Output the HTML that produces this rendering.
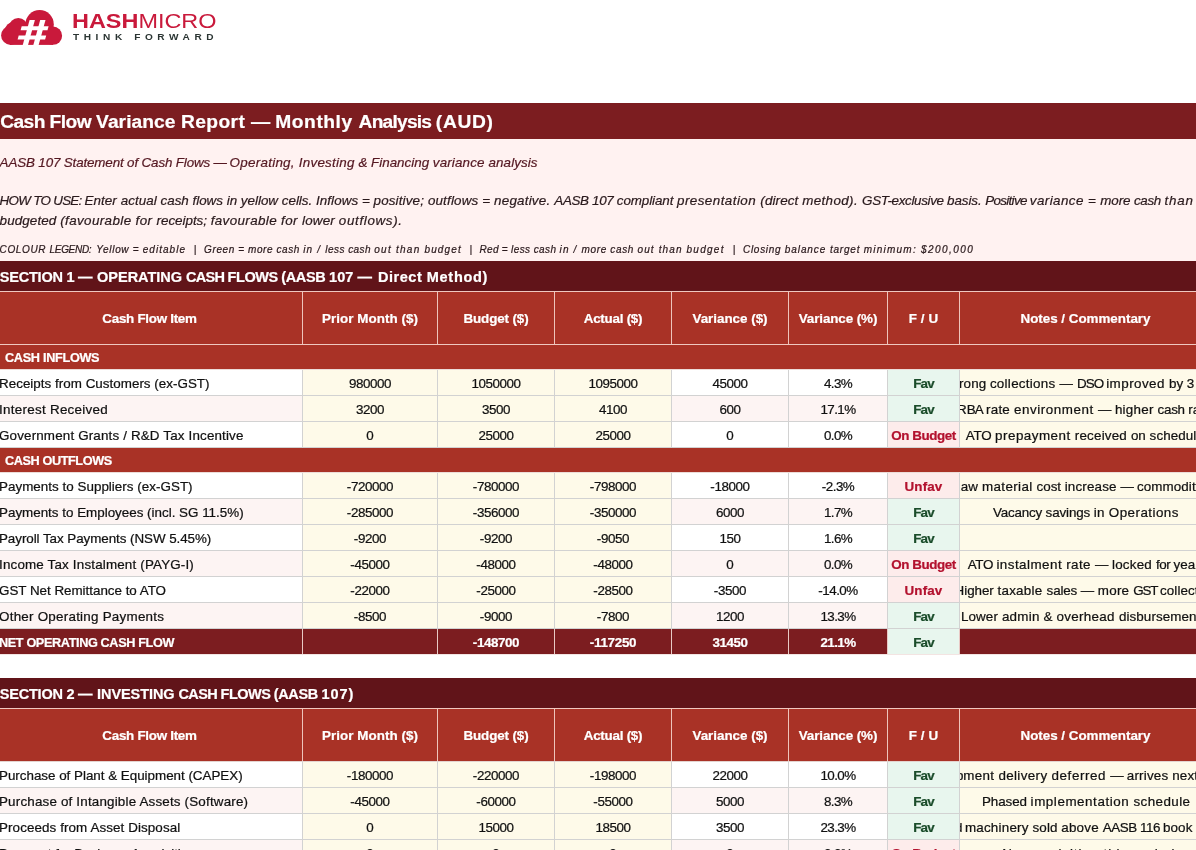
<!DOCTYPE html>
<html lang="en"><head><meta charset="utf-8"><title>Cash Flow Variance Report</title>
<style>
*{box-sizing:border-box;margin:0;padding:0}
html,body{width:1196px;height:850px;overflow:hidden;background:#fff}
body{position:relative;font-family:"Liberation Sans", sans-serif;font-size:13.4px;color:#111;-webkit-text-stroke:0.22px}
.a{position:absolute;white-space:nowrap;overflow:hidden}
.bar{position:absolute;left:0;width:1196px;color:#fff;font-weight:bold;white-space:nowrap;overflow:hidden;display:flex;align-items:center}
.row{position:absolute;left:0;width:1212px}
.c{position:absolute;top:0;height:100%;white-space:nowrap;overflow:hidden;border-right:1px solid #d2d2d2;border-bottom:1px solid #d2d2d2;display:flex;align-items:center;justify-content:center;padding-top:1px}
.c.l{justify-content:flex-start}
.c.l span{margin-left:-1px}
.h .c{border:0;border-right:1px solid #efc4bb;color:#fff;font-weight:bold;padding-top:1px}
.h{background:#a93226;border-top:1px solid #f0c8c0;border-bottom:1px solid #f0c8c0}
.h.h2{border-bottom-color:#e4d4d0}
.y{background:#fefae9}
.w{background:#fff}
.p{background:#fdf4f3}
.g{background:#e8f6ee;color:#1b4d2b;font-weight:bold}
.u{background:#fdeceb;color:#b3122f;font-weight:bold}
.n{border-bottom:1px solid #f3e4e2}
.n .c{background:#7c1d20;color:#fff;font-weight:bold;border-color:#e9c9c5;border-bottom:0;padding-top:2px}
.n .c.g{background:#e8f6ee;color:#1b4d2b}
.nt{position:absolute;left:0;top:1px;width:100%;height:25px;line-height:26px}
.c0{left:0px;width:303px}
.c1{left:303px;width:135px}
.c2{left:438px;width:117px}
.c3{left:555px;width:117px}
.c4{left:672px;width:117px}
.c5{left:789px;width:99px}
.c6{left:888px;width:72px}
.c7{left:960px;width:252px}
</style></head>
<body>
<svg class="a" style="left:0;top:0" width="70" height="50" viewBox="0 0 70 50">
<g fill="#c9193b"><circle cx="10.6" cy="35.400" r="9.500"/><circle cx="14" cy="31" r="9.300"/><circle cx="18.300" cy="27.300" r="9.400"/><circle cx="39.600" cy="24.200" r="14.200"/><circle cx="53" cy="35.700" r="9.100"/><rect x="10" y="28" width="43" height="16.900"/></g>
<g fill="#fff">
<path d="M29.600 20 L34.900 20 L27.900 45.500 L22.600 45.500 Z"/>
<path d="M40.200 20 L45.500 20 L38.500 45.500 L33.200 45.500 Z"/>
<path d="M21.700 26.300 L48.600 26.300 L47.500 30.200 L20.600 30.200 Z"/>
<path d="M18.700 35.500 L46.200 35.500 L45.100 39.500 L17.600 39.500 Z"/>
</g></svg>
<div class="a" style="left:72px;top:9px;height:24px;line-height:24px;color:#c9193b;-webkit-text-stroke:0;overflow:visible;transform-origin:0 0;transform:scaleX(1.19);font-size:19.7px"><b>HASH</b>MICRO</div>
<div class="a" style="left:72.5px;top:32px;height:11px;line-height:11px;color:#2b3533;-webkit-text-stroke:0;font-weight:bold;overflow:visible;font-size:9px;letter-spacing:4.1px;transform-origin:0 0;transform:scaleX(1.12)">THINK FORWARD</div>
<div class="bar" style="top:103px;height:36px;background:#7c1d20"><div style="position:absolute;left:0;top:1px;height:36px;line-height:36px;font-size:19.2px"><span style="position:absolute;left:0.3px;top:0;letter-spacing:-0.610px;white-space:pre">Cash </span><span style="position:absolute;left:49.5px;top:0;letter-spacing:-0.485px;white-space:pre">Flow </span><span style="position:absolute;left:96.1px;top:0;letter-spacing:0.059px;white-space:pre">Variance </span><span style="position:absolute;left:180.9px;top:0;letter-spacing:0.435px;white-space:pre">Report </span><span style="position:absolute;left:251.1px;top:0;letter-spacing:-0.159px;white-space:pre">— </span><span style="position:absolute;left:275.3px;top:0;letter-spacing:0.554px;white-space:pre">Monthly </span><span style="position:absolute;left:358.6px;top:0;letter-spacing:-0.784px;white-space:pre">Analysis </span><span style="position:absolute;left:435.8px;top:0;letter-spacing:0.693px;white-space:pre">(AUD)</span></div></div>
<div class="a" style="left:0;top:139px;width:1196px;height:122px;background:#fff2f1"></div>
<div class="a" style="left:0;top:153.0px;height:20px;line-height:20px;width:1196px;font-style:italic;font-size:13.4px;color:#551822"><span style="position:absolute;left:-0.4px;top:0;letter-spacing:-0.146px;white-space:pre">AASB 107 Statement of Cash Flows </span><span style="position:absolute;left:213.6px;top:0;letter-spacing:-0.555px;white-space:pre">— </span><span style="position:absolute;left:229.6px;top:0;letter-spacing:0.268px;white-space:pre">Operating, </span><span style="position:absolute;left:298.8px;top:0;letter-spacing:0.248px;white-space:pre">Investing </span><span style="position:absolute;left:358.6px;top:0;letter-spacing:-0.076px;white-space:pre">&amp; </span><span style="position:absolute;left:371.1px;top:0;letter-spacing:-0.008px;white-space:pre">Financing </span><span style="position:absolute;left:432.8px;top:0;letter-spacing:0.152px;white-space:pre">variance </span><span style="position:absolute;left:488.5px;top:0;letter-spacing:0.095px;white-space:pre">analysis</span></div>
<div class="a" style="left:0;top:190.8px;height:20px;line-height:20px;width:1196px;font-style:italic;font-size:13.4px;color:#2a1a1d"><span style="position:absolute;left:-0.4px;top:0;letter-spacing:-0.708px;white-space:pre">HOW TO USE: </span><span style="position:absolute;left:84.6px;top:0;letter-spacing:0.056px;white-space:pre">Enter actual </span><span style="position:absolute;left:160.5px;top:0;letter-spacing:-0.005px;white-space:pre">cash flows in </span><span style="position:absolute;left:240.8px;top:0;letter-spacing:0.003px;white-space:pre">yellow cells. </span><span style="position:absolute;left:316.0px;top:0;letter-spacing:0.066px;white-space:pre">Inflows = </span><span style="position:absolute;left:373.6px;top:0;letter-spacing:0.146px;white-space:pre">positive; </span><span style="position:absolute;left:427.9px;top:0;letter-spacing:0.165px;white-space:pre">outflows = </span><span style="position:absolute;left:494.1px;top:0;letter-spacing:0.213px;white-space:pre">negative. </span><span style="position:absolute;left:554.3px;top:0;letter-spacing:-0.334px;white-space:pre">AASB 107 </span><span style="position:absolute;left:616.8px;top:0;letter-spacing:-0.083px;white-space:pre">compliant </span><span style="position:absolute;left:677.0px;top:0;letter-spacing:0.452px;white-space:pre">presentation </span><span style="position:absolute;left:760.3px;top:0;letter-spacing:0.122px;white-space:pre">(direct </span><span style="position:absolute;left:802.2px;top:0;letter-spacing:0.371px;white-space:pre">method). </span><span style="position:absolute;left:862.1px;top:0;letter-spacing:-0.325px;white-space:pre">GST-exclusive </span><span style="position:absolute;left:947.1px;top:0;letter-spacing:-0.086px;white-space:pre">basis. </span><span style="position:absolute;left:985.2px;top:0;letter-spacing:-0.667px;white-space:pre">Positive </span><span style="position:absolute;left:1029.8px;top:0;letter-spacing:0.421px;white-space:pre">variance = </span><span style="position:absolute;left:1100.3px;top:0;letter-spacing:-0.126px;white-space:pre">more </span><span style="position:absolute;left:1133.9px;top:0;letter-spacing:-0.301px;white-space:pre">cash </span><span style="position:absolute;left:1164.4px;top:0;letter-spacing:0.826px;white-space:pre">than</span></div>
<div class="a" style="left:0;top:210.8px;height:20px;line-height:20px;width:1196px;font-style:italic;font-size:13.4px;color:#2a1a1d"><span style="position:absolute;left:-0.4px;top:0;letter-spacing:0.114px;white-space:pre">budgeted </span><span style="position:absolute;left:60.2px;top:0;letter-spacing:0.390px;white-space:pre">(favourable for </span><span style="position:absolute;left:156.5px;top:0;letter-spacing:-0.013px;white-space:pre">receipts; </span><span style="position:absolute;left:210.7px;top:0;letter-spacing:0.380px;white-space:pre">favourable for </span><span style="position:absolute;left:302.0px;top:0;letter-spacing:0.180px;white-space:pre">lower </span><span style="position:absolute;left:338.8px;top:0;letter-spacing:0.660px;white-space:pre">outflows).</span></div>
<div class="a" style="left:0;top:243.0px;height:14px;line-height:14px;width:1196px;font-style:italic;font-size:10.0px;color:#2a1a1d"><span style="position:absolute;left:-0.4px;top:0;letter-spacing:0.620px;white-space:pre">COLOUR </span><span style="position:absolute;left:49.5px;top:0;letter-spacing:-0.295px;white-space:pre">LEGEND:  </span><span style="position:absolute;left:96.3px;top:0;letter-spacing:0.677px;white-space:pre">Yellow = </span><span style="position:absolute;left:142.7px;top:0;letter-spacing:1.041px;white-space:pre">editable  </span><span style="position:absolute;left:193.7px;top:0;letter-spacing:0.749px;white-space:pre">|  </span><span style="position:absolute;left:204.1px;top:0;letter-spacing:0.589px;white-space:pre">Green = </span><span style="position:absolute;left:248.0px;top:0;letter-spacing:0.574px;white-space:pre">more cash </span><span style="position:absolute;left:303.2px;top:0;letter-spacing:1.196px;white-space:pre">in / </span><span style="position:absolute;left:325.3px;top:0;letter-spacing:0.454px;white-space:pre">less cash </span><span style="position:absolute;left:374.3px;top:0;letter-spacing:1.253px;white-space:pre">out than </span><span style="position:absolute;left:424.5px;top:0;letter-spacing:1.120px;white-space:pre">budget  </span><span style="position:absolute;left:469.6px;top:0;letter-spacing:0.582px;white-space:pre">|  </span><span style="position:absolute;left:479.5px;top:0;letter-spacing:0.310px;white-space:pre">Red = </span><span style="position:absolute;left:511.1px;top:0;letter-spacing:0.404px;white-space:pre">less cash </span><span style="position:absolute;left:559.6px;top:0;letter-spacing:1.156px;white-space:pre">in / </span><span style="position:absolute;left:581.5px;top:0;letter-spacing:0.654px;white-space:pre">more cash </span><span style="position:absolute;left:637.5px;top:0;letter-spacing:1.120px;white-space:pre">out than </span><span style="position:absolute;left:686.5px;top:0;letter-spacing:1.270px;white-space:pre">budget  </span><span style="position:absolute;left:732.8px;top:0;letter-spacing:0.682px;white-space:pre">|  </span><span style="position:absolute;left:743.0px;top:0;letter-spacing:0.709px;white-space:pre">Closing </span><span style="position:absolute;left:784.8px;top:0;letter-spacing:0.912px;white-space:pre">balance </span><span style="position:absolute;left:829.9px;top:0;letter-spacing:0.793px;white-space:pre">target </span><span style="position:absolute;left:863.8px;top:0;letter-spacing:1.221px;white-space:pre">minimum: </span><span style="position:absolute;left:920.9px;top:0;letter-spacing:1.470px;white-space:pre">$200,000</span></div>
<div class="bar" style="top:261px;height:30px;background:#611419"><div style="position:absolute;left:0;top:1px;height:30px;line-height:30px;font-size:14.5px"><span style="position:absolute;left:-0.2px;top:0;letter-spacing:-0.227px;white-space:pre">SECTION 1 </span><span style="position:absolute;left:78.1px;top:0;letter-spacing:0.236px;white-space:pre">— </span><span style="position:absolute;left:97.1px;top:0;letter-spacing:-0.025px;white-space:pre">OPERATING </span><span style="position:absolute;left:186.0px;top:0;letter-spacing:-0.703px;white-space:pre">CASH </span><span style="position:absolute;left:227.6px;top:0;letter-spacing:-0.446px;white-space:pre">FLOWS </span><span style="position:absolute;left:281.3px;top:0;letter-spacing:-0.374px;white-space:pre">(AASB </span><span style="position:absolute;left:329.0px;top:0;letter-spacing:0.095px;white-space:pre">107 </span><span style="position:absolute;left:357.6px;top:0;letter-spacing:0.986px;white-space:pre">— </span><span style="position:absolute;left:378.1px;top:0;letter-spacing:0.510px;white-space:pre">Direct </span><span style="position:absolute;left:426.8px;top:0;letter-spacing:0.713px;white-space:pre">Method)</span></div></div>
<div class="row h " style="top:291px;height:54px">
<div class="c c0" style="padding-right:3px"><span style="font-size:13.4px;letter-spacing:-0.275px;">Cash Flow Item</span></div>
<div class="c c1"><span style="font-size:13.4px;letter-spacing:0.038px;">Prior Month ($)</span></div>
<div class="c c2"><span style="font-size:13.4px;letter-spacing:-0.118px;">Budget ($)</span></div>
<div class="c c3"><span style="font-size:13.4px;letter-spacing:-0.252px;">Actual ($)</span></div>
<div class="c c4"><span style="font-size:13.4px;letter-spacing:-0.013px;">Variance ($)</span></div>
<div class="c c5"><span style="font-size:13.4px;letter-spacing:-0.091px;">Variance (%)</span></div>
<div class="c c6"><span style="font-size:13.4px;letter-spacing:0.057px;">F / U</span></div>
<div class="c c7"><span style="font-size:13.4px;letter-spacing:-0.016px;">Notes / Commentary</span></div>
</div>
<div class="bar" style="top:345px;height:25px;background:#a93226;padding-left:5px;padding-top:1px;border-bottom:1px solid #ecdcd8"><span style="font-size:12.7px;letter-spacing:-0.309px;">CASH INFLOWS</span></div>
<div class="row" style="top:370px;height:26px">
<div class="c c0 l w"><span style="font-size:13.4px;letter-spacing:0.023px;">Receipts from Customers (ex-GST)</span></div>
<div class="c c1 y"><span style="font-size:13.4px;letter-spacing:-0.469px;">980000</span></div>
<div class="c c2 y"><span style="font-size:13.4px;letter-spacing:-0.465px;">1050000</span></div>
<div class="c c3 y"><span style="font-size:13.4px;letter-spacing:-0.465px;">1095000</span></div>
<div class="c c4 w"><span style="font-size:13.4px;letter-spacing:-0.474px;">45000</span></div>
<div class="c c5 w"><span style="font-size:13.4px;letter-spacing:-0.660px;">4.3%</span></div>
<div class="c c6 g"><span style="font-size:13.4px;letter-spacing:-0.867px;">Fav</span></div>
<div class="c c7 y"><div class="nt" style="left:0"><span style="position:absolute;left:-13.6px;top:0;letter-spacing:0.000px;white-space:pre">St</span><span style="position:absolute;left:-0.9px;top:0;letter-spacing:0.056px;white-space:pre">rong </span><span style="position:absolute;left:29.9px;top:0;letter-spacing:0.288px;white-space:pre">collections </span><span style="position:absolute;left:99.6px;top:0;letter-spacing:0.145px;white-space:pre">— </span><span style="position:absolute;left:117.0px;top:0;letter-spacing:-0.884px;white-space:pre">DSO </span><span style="position:absolute;left:146.2px;top:0;letter-spacing:0.456px;white-space:pre">improved </span><span style="position:absolute;left:209.1px;top:0;letter-spacing:-0.088px;white-space:pre">by </span><span style="position:absolute;left:226.7px;top:0;letter-spacing:0.100px;white-space:pre">3 days</span></div></div>
</div>
<div class="row" style="top:396px;height:26px">
<div class="c c0 l p"><span style="font-size:13.4px;letter-spacing:0.284px;">Interest Received</span></div>
<div class="c c1 y"><span style="font-size:13.4px;letter-spacing:-0.483px;">3200</span></div>
<div class="c c2 y"><span style="font-size:13.4px;letter-spacing:-0.483px;">3500</span></div>
<div class="c c3 y"><span style="font-size:13.4px;letter-spacing:-0.483px;">4100</span></div>
<div class="c c4 p"><span style="font-size:13.4px;letter-spacing:-0.501px;">600</span></div>
<div class="c c5 p"><span style="font-size:13.4px;letter-spacing:-0.607px;">17.1%</span></div>
<div class="c c6 g"><span style="font-size:13.4px;letter-spacing:-0.867px;">Fav</span></div>
<div class="c c7 y"><div class="nt" style="left:0"><span style="position:absolute;left:-3.0px;top:0;letter-spacing:0.000px;white-space:pre">R</span><span style="position:absolute;left:6.7px;top:0;letter-spacing:-0.761px;white-space:pre">BA </span><span style="position:absolute;left:26.0px;top:0;letter-spacing:0.241px;white-space:pre">rate </span><span style="position:absolute;left:54.0px;top:0;letter-spacing:0.549px;white-space:pre">environment </span><span style="position:absolute;left:138.0px;top:0;letter-spacing:-0.105px;white-space:pre">— </span><span style="position:absolute;left:154.9px;top:0;letter-spacing:0.251px;white-space:pre">higher </span><span style="position:absolute;left:197.6px;top:0;letter-spacing:-0.281px;white-space:pre">cash </span><span style="position:absolute;left:228.2px;top:0;letter-spacing:0.100px;white-space:pre">rate</span></div></div>
</div>
<div class="row" style="top:422px;height:26px">
<div class="c c0 l w"><span style="font-size:13.4px;letter-spacing:0.160px;">Government Grants / R&amp;D Tax Incentive</span></div>
<div class="c c1 y"><span style="font-size:13.4px;">0</span></div>
<div class="c c2 y"><span style="font-size:13.4px;letter-spacing:-0.474px;">25000</span></div>
<div class="c c3 y"><span style="font-size:13.4px;letter-spacing:-0.474px;">25000</span></div>
<div class="c c4 w"><span style="font-size:13.4px;">0</span></div>
<div class="c c5 w"><span style="font-size:13.4px;letter-spacing:-0.660px;">0.0%</span></div>
<div class="c c6 u"><span style="font-size:13.4px;letter-spacing:-0.411px;">On Budget</span></div>
<div class="c c7 y"><div class="nt" style="left:0"><span style="position:absolute;left:5.7px;top:0;letter-spacing:-0.153px;white-space:pre">ATO </span><span style="position:absolute;left:35.1px;top:0;letter-spacing:0.479px;white-space:pre">prepayment </span><span style="position:absolute;left:114.8px;top:0;letter-spacing:0.196px;white-space:pre">received </span><span style="position:absolute;left:170.9px;top:0;letter-spacing:0.028px;white-space:pre">on </span><span style="position:absolute;left:189.6px;top:0;letter-spacing:0.100px;white-space:pre">schedule</span></div></div>
</div>
<div class="bar" style="top:448px;height:25px;background:#a93226;padding-left:5px;padding-top:1px;border-bottom:1px solid #ecdcd8"><span style="font-size:12.7px;letter-spacing:-0.408px;">CASH OUTFLOWS</span></div>
<div class="row" style="top:473px;height:26px">
<div class="c c0 l w"><span style="font-size:13.4px;letter-spacing:0.028px;">Payments to Suppliers (ex-GST)</span></div>
<div class="c c1 y"><span style="font-size:13.4px;letter-spacing:-0.400px;">-720000</span></div>
<div class="c c2 y"><span style="font-size:13.4px;letter-spacing:-0.400px;">-780000</span></div>
<div class="c c3 y"><span style="font-size:13.4px;letter-spacing:-0.400px;">-798000</span></div>
<div class="c c4 w"><span style="font-size:13.4px;letter-spacing:-0.391px;">-18000</span></div>
<div class="c c5 w"><span style="font-size:13.4px;letter-spacing:-0.510px;">-2.3%</span></div>
<div class="c c6 u"><span style="font-size:13.4px;letter-spacing:0.134px;">Unfav</span></div>
<div class="c c7 y"><div class="nt" style="left:0"><span style="position:absolute;left:-9.0px;top:0;letter-spacing:0.000px;white-space:pre">R</span><span style="position:absolute;left:0.7px;top:0;letter-spacing:0.154px;white-space:pre">aw </span><span style="position:absolute;left:22.0px;top:0;letter-spacing:0.362px;white-space:pre">material </span><span style="position:absolute;left:76.6px;top:0;letter-spacing:-0.036px;white-space:pre">cost </span><span style="position:absolute;left:104.7px;top:0;letter-spacing:0.174px;white-space:pre">increase </span><span style="position:absolute;left:160.6px;top:0;letter-spacing:-0.405px;white-space:pre">— </span><span style="position:absolute;left:176.9px;top:0;letter-spacing:0.100px;white-space:pre">commodity</span></div></div>
</div>
<div class="row" style="top:499px;height:26px">
<div class="c c0 l p"><span style="font-size:13.4px;">Payments to Employees (incl. SG 11.5%)</span></div>
<div class="c c1 y"><span style="font-size:13.4px;letter-spacing:-0.400px;">-285000</span></div>
<div class="c c2 y"><span style="font-size:13.4px;letter-spacing:-0.400px;">-356000</span></div>
<div class="c c3 y"><span style="font-size:13.4px;letter-spacing:-0.400px;">-350000</span></div>
<div class="c c4 p"><span style="font-size:13.4px;letter-spacing:-0.483px;">6000</span></div>
<div class="c c5 p"><span style="font-size:13.4px;letter-spacing:-0.660px;">1.7%</span></div>
<div class="c c6 g"><span style="font-size:13.4px;letter-spacing:-0.867px;">Fav</span></div>
<div class="c c7 y"><div class="nt" style="left:0"><span style="position:absolute;left:33.0px;top:0;letter-spacing:-0.186px;white-space:pre">Vacancy </span><span style="position:absolute;left:85.6px;top:0;letter-spacing:-0.115px;white-space:pre">savings </span><span style="position:absolute;left:133.8px;top:0;letter-spacing:0.286px;white-space:pre">in </span><span style="position:absolute;left:148.8px;top:0;letter-spacing:0.460px;white-space:pre">Operations</span></div></div>
</div>
<div class="row" style="top:525px;height:26px">
<div class="c c0 l w"><span style="font-size:13.4px;letter-spacing:-0.057px;">Payroll Tax Payments (NSW 5.45%)</span></div>
<div class="c c1 y"><span style="font-size:13.4px;letter-spacing:-0.377px;">-9200</span></div>
<div class="c c2 y"><span style="font-size:13.4px;letter-spacing:-0.377px;">-9200</span></div>
<div class="c c3 y"><span style="font-size:13.4px;letter-spacing:-0.377px;">-9050</span></div>
<div class="c c4 w"><span style="font-size:13.4px;letter-spacing:-0.501px;">150</span></div>
<div class="c c5 w"><span style="font-size:13.4px;letter-spacing:-0.660px;">1.6%</span></div>
<div class="c c6 g"><span style="font-size:13.4px;letter-spacing:-0.867px;">Fav</span></div>
<div class="c c7 y"></div>
</div>
<div class="row" style="top:551px;height:26px">
<div class="c c0 l p"><span style="font-size:13.4px;letter-spacing:0.174px;">Income Tax Instalment (PAYG-I)</span></div>
<div class="c c1 y"><span style="font-size:13.4px;letter-spacing:-0.391px;">-45000</span></div>
<div class="c c2 y"><span style="font-size:13.4px;letter-spacing:-0.391px;">-48000</span></div>
<div class="c c3 y"><span style="font-size:13.4px;letter-spacing:-0.391px;">-48000</span></div>
<div class="c c4 p"><span style="font-size:13.4px;">0</span></div>
<div class="c c5 p"><span style="font-size:13.4px;letter-spacing:-0.660px;">0.0%</span></div>
<div class="c c6 u"><span style="font-size:13.4px;letter-spacing:-0.411px;">On Budget</span></div>
<div class="c c7 y"><div class="nt" style="left:0"><span style="position:absolute;left:7.7px;top:0;letter-spacing:-0.328px;white-space:pre">ATO </span><span style="position:absolute;left:36.4px;top:0;letter-spacing:0.468px;white-space:pre">instalment </span><span style="position:absolute;left:106.3px;top:0;letter-spacing:0.361px;white-space:pre">rate </span><span style="position:absolute;left:134.9px;top:0;letter-spacing:-0.005px;white-space:pre">— </span><span style="position:absolute;left:152.0px;top:0;letter-spacing:0.210px;white-space:pre">locked </span><span style="position:absolute;left:195.9px;top:0;letter-spacing:-0.437px;white-space:pre">for </span><span style="position:absolute;left:213.5px;top:0;letter-spacing:0.100px;white-space:pre">year</span></div></div>
</div>
<div class="row" style="top:577px;height:26px">
<div class="c c0 l w"><span style="font-size:13.4px;letter-spacing:-0.020px;">GST Net Remittance to ATO</span></div>
<div class="c c1 y"><span style="font-size:13.4px;letter-spacing:-0.391px;">-22000</span></div>
<div class="c c2 y"><span style="font-size:13.4px;letter-spacing:-0.391px;">-25000</span></div>
<div class="c c3 y"><span style="font-size:13.4px;letter-spacing:-0.391px;">-28500</span></div>
<div class="c c4 w"><span style="font-size:13.4px;letter-spacing:-0.377px;">-3500</span></div>
<div class="c c5 w"><span style="font-size:13.4px;letter-spacing:-0.498px;">-14.0%</span></div>
<div class="c c6 u"><span style="font-size:13.4px;letter-spacing:0.134px;">Unfav</span></div>
<div class="c c7 y"><div class="nt" style="left:0"><span style="position:absolute;left:-5.4px;top:0;letter-spacing:0.000px;white-space:pre">H</span><span style="position:absolute;left:4.3px;top:0;letter-spacing:-0.066px;white-space:pre">igher </span><span style="position:absolute;left:37.4px;top:0;letter-spacing:0.288px;white-space:pre">taxable </span><span style="position:absolute;left:86.6px;top:0;letter-spacing:-0.147px;white-space:pre">sales </span><span style="position:absolute;left:120.7px;top:0;letter-spacing:-0.005px;white-space:pre">— </span><span style="position:absolute;left:137.8px;top:0;letter-spacing:0.254px;white-space:pre">more </span><span style="position:absolute;left:173.3px;top:0;letter-spacing:-1.137px;white-space:pre">GST </span><span style="position:absolute;left:200.0px;top:0;letter-spacing:0.100px;white-space:pre">collected</span></div></div>
</div>
<div class="row" style="top:603px;height:26px">
<div class="c c0 l p"><span style="font-size:13.4px;letter-spacing:0.246px;">Other Operating Payments</span></div>
<div class="c c1 y"><span style="font-size:13.4px;letter-spacing:-0.377px;">-8500</span></div>
<div class="c c2 y"><span style="font-size:13.4px;letter-spacing:-0.377px;">-9000</span></div>
<div class="c c3 y"><span style="font-size:13.4px;letter-spacing:-0.377px;">-7800</span></div>
<div class="c c4 p"><span style="font-size:13.4px;letter-spacing:-0.483px;">1200</span></div>
<div class="c c5 p"><span style="font-size:13.4px;letter-spacing:-0.607px;">13.3%</span></div>
<div class="c c6 g"><span style="font-size:13.4px;letter-spacing:-0.867px;">Fav</span></div>
<div class="c c7 y"><div class="nt" style="left:0"><span style="position:absolute;left:0.9px;top:0;letter-spacing:0.135px;white-space:pre">Lower </span><span style="position:absolute;left:41.9px;top:0;letter-spacing:0.251px;white-space:pre">admin </span><span style="position:absolute;left:83.6px;top:0;letter-spacing:0.174px;white-space:pre">&amp; </span><span style="position:absolute;left:96.6px;top:0;letter-spacing:0.305px;white-space:pre">overhead </span><span style="position:absolute;left:158.9px;top:0;letter-spacing:0.100px;white-space:pre">disbursements</span></div></div>
</div>
<div class="row n" style="top:629px;height:26px">
<div class="c c0 l"><span style="font-size:12.7px;letter-spacing:-0.380px;">NET OPERATING CASH FLOW</span></div>
<div class="c c1 "></div>
<div class="c c2 "><span style="font-size:13.4px;letter-spacing:-0.400px;">-148700</span></div>
<div class="c c3 "><span style="font-size:13.4px;letter-spacing:-0.277px;">-117250</span></div>
<div class="c c4 "><span style="font-size:13.4px;letter-spacing:-0.474px;">31450</span></div>
<div class="c c5 "><span style="font-size:13.4px;letter-spacing:-0.607px;">21.1%</span></div>
<div class="c c6 g"><span style="font-size:13.4px;letter-spacing:-0.867px;">Fav</span></div>
<div class="c c7"></div></div>
<div class="bar" style="top:678px;height:30px;background:#611419"><div style="position:absolute;left:0;top:1px;height:30px;line-height:30px;font-size:14.5px"><span style="position:absolute;left:-0.2px;top:0;letter-spacing:-0.227px;white-space:pre">SECTION 2 </span><span style="position:absolute;left:78.1px;top:0;letter-spacing:0.236px;white-space:pre">— </span><span style="position:absolute;left:97.1px;top:0;letter-spacing:-0.088px;white-space:pre">INVESTING </span><span style="position:absolute;left:178.4px;top:0;letter-spacing:-0.583px;white-space:pre">CASH </span><span style="position:absolute;left:220.6px;top:0;letter-spacing:-0.530px;white-space:pre">FLOWS </span><span style="position:absolute;left:273.8px;top:0;letter-spacing:-0.390px;white-space:pre">(AASB </span><span style="position:absolute;left:321.4px;top:0;letter-spacing:1.010px;white-space:pre">107)</span></div></div>
<div class="row h h2" style="top:708px;height:54px">
<div class="c c0" style="padding-right:3px"><span style="font-size:13.4px;letter-spacing:-0.275px;">Cash Flow Item</span></div>
<div class="c c1"><span style="font-size:13.4px;letter-spacing:0.038px;">Prior Month ($)</span></div>
<div class="c c2"><span style="font-size:13.4px;letter-spacing:-0.118px;">Budget ($)</span></div>
<div class="c c3"><span style="font-size:13.4px;letter-spacing:-0.252px;">Actual ($)</span></div>
<div class="c c4"><span style="font-size:13.4px;letter-spacing:-0.013px;">Variance ($)</span></div>
<div class="c c5"><span style="font-size:13.4px;letter-spacing:-0.091px;">Variance (%)</span></div>
<div class="c c6"><span style="font-size:13.4px;letter-spacing:0.057px;">F / U</span></div>
<div class="c c7"><span style="font-size:13.4px;letter-spacing:-0.016px;">Notes / Commentary</span></div>
</div>
<div class="row" style="top:762px;height:26px">
<div class="c c0 l w"><span style="font-size:13.4px;letter-spacing:-0.013px;">Purchase of Plant &amp; Equipment (CAPEX)</span></div>
<div class="c c1 y"><span style="font-size:13.4px;letter-spacing:-0.400px;">-180000</span></div>
<div class="c c2 y"><span style="font-size:13.4px;letter-spacing:-0.400px;">-220000</span></div>
<div class="c c3 y"><span style="font-size:13.4px;letter-spacing:-0.400px;">-198000</span></div>
<div class="c c4 w"><span style="font-size:13.4px;letter-spacing:-0.474px;">22000</span></div>
<div class="c c5 w"><span style="font-size:13.4px;letter-spacing:-0.607px;">10.0%</span></div>
<div class="c c6 g"><span style="font-size:13.4px;letter-spacing:-0.867px;">Fav</span></div>
<div class="c c7 y"><div class="nt" style="left:0"><span style="position:absolute;left:-30.9px;top:0;letter-spacing:0.000px;white-space:pre">Equip</span><span style="position:absolute;left:3.3px;top:0;letter-spacing:0.322px;white-space:pre">ment </span><span style="position:absolute;left:38.4px;top:0;letter-spacing:0.371px;white-space:pre">delivery </span><span style="position:absolute;left:91.6px;top:0;letter-spacing:0.567px;white-space:pre">deferred </span><span style="position:absolute;left:150.3px;top:0;letter-spacing:-0.305px;white-space:pre">— </span><span style="position:absolute;left:166.8px;top:0;letter-spacing:0.200px;white-space:pre">arrives </span><span style="position:absolute;left:212.3px;top:0;letter-spacing:0.100px;white-space:pre">next month</span></div></div>
</div>
<div class="row" style="top:788px;height:26px">
<div class="c c0 l p"><span style="font-size:13.4px;letter-spacing:0.182px;">Purchase of Intangible Assets (Software)</span></div>
<div class="c c1 y"><span style="font-size:13.4px;letter-spacing:-0.391px;">-45000</span></div>
<div class="c c2 y"><span style="font-size:13.4px;letter-spacing:-0.391px;">-60000</span></div>
<div class="c c3 y"><span style="font-size:13.4px;letter-spacing:-0.391px;">-55000</span></div>
<div class="c c4 p"><span style="font-size:13.4px;letter-spacing:-0.483px;">5000</span></div>
<div class="c c5 p"><span style="font-size:13.4px;letter-spacing:-0.660px;">8.3%</span></div>
<div class="c c6 g"><span style="font-size:13.4px;letter-spacing:-0.867px;">Fav</span></div>
<div class="c c7 y"><div class="nt" style="left:0"><span style="position:absolute;left:22.0px;top:0;letter-spacing:-0.077px;white-space:pre">Phased </span><span style="position:absolute;left:70.6px;top:0;letter-spacing:0.558px;white-space:pre">implementation </span><span style="position:absolute;left:173.5px;top:0;letter-spacing:0.420px;white-space:pre">schedule</span></div></div>
</div>
<div class="row" style="top:814px;height:26px">
<div class="c c0 l w"><span style="font-size:13.4px;letter-spacing:0.096px;">Proceeds from Asset Disposal</span></div>
<div class="c c1 y"><span style="font-size:13.4px;">0</span></div>
<div class="c c2 y"><span style="font-size:13.4px;letter-spacing:-0.474px;">15000</span></div>
<div class="c c3 y"><span style="font-size:13.4px;letter-spacing:-0.474px;">18500</span></div>
<div class="c c4 w"><span style="font-size:13.4px;letter-spacing:-0.483px;">3500</span></div>
<div class="c c5 w"><span style="font-size:13.4px;letter-spacing:-0.607px;">23.3%</span></div>
<div class="c c6 g"><span style="font-size:13.4px;letter-spacing:-0.867px;">Fav</span></div>
<div class="c c7 y"><div class="nt" style="left:0"><span style="position:absolute;left:-18.5px;top:0;letter-spacing:0.000px;white-space:pre">Ol</span><span style="position:absolute;left:-5.1px;top:0;letter-spacing:-0.584px;white-space:pre">d </span><span style="position:absolute;left:4.9px;top:0;letter-spacing:0.221px;white-space:pre">machinery </span><span style="position:absolute;left:72.6px;top:0;letter-spacing:0.083px;white-space:pre">sold </span><span style="position:absolute;left:101.3px;top:0;letter-spacing:0.216px;white-space:pre">above </span><span style="position:absolute;left:142.8px;top:0;letter-spacing:-0.429px;white-space:pre">AASB </span><span style="position:absolute;left:180.1px;top:0;letter-spacing:-0.542px;white-space:pre">116 </span><span style="position:absolute;left:203.0px;top:0;letter-spacing:0.100px;white-space:pre">book value</span></div></div>
</div>
<div class="row" style="top:840px;height:26px">
<div class="c c0 l p"><span style="font-size:13.4px;letter-spacing:-0.045px;">Payment for Business Acquisition</span></div>
<div class="c c1 y"><span style="font-size:13.4px;">0</span></div>
<div class="c c2 y"><span style="font-size:13.4px;">0</span></div>
<div class="c c3 y"><span style="font-size:13.4px;">0</span></div>
<div class="c c4 p"><span style="font-size:13.4px;">0</span></div>
<div class="c c5 p"><span style="font-size:13.4px;letter-spacing:-0.660px;">0.0%</span></div>
<div class="c c6 u"><span style="font-size:13.4px;letter-spacing:-0.411px;">On Budget</span></div>
<div class="c c7 y"><div class="nt" style="left:0"><span style="position:absolute;left:42.3px;top:0;letter-spacing:0.897px;white-space:pre">No acquisition this period</span></div></div>
</div>
</body></html>
